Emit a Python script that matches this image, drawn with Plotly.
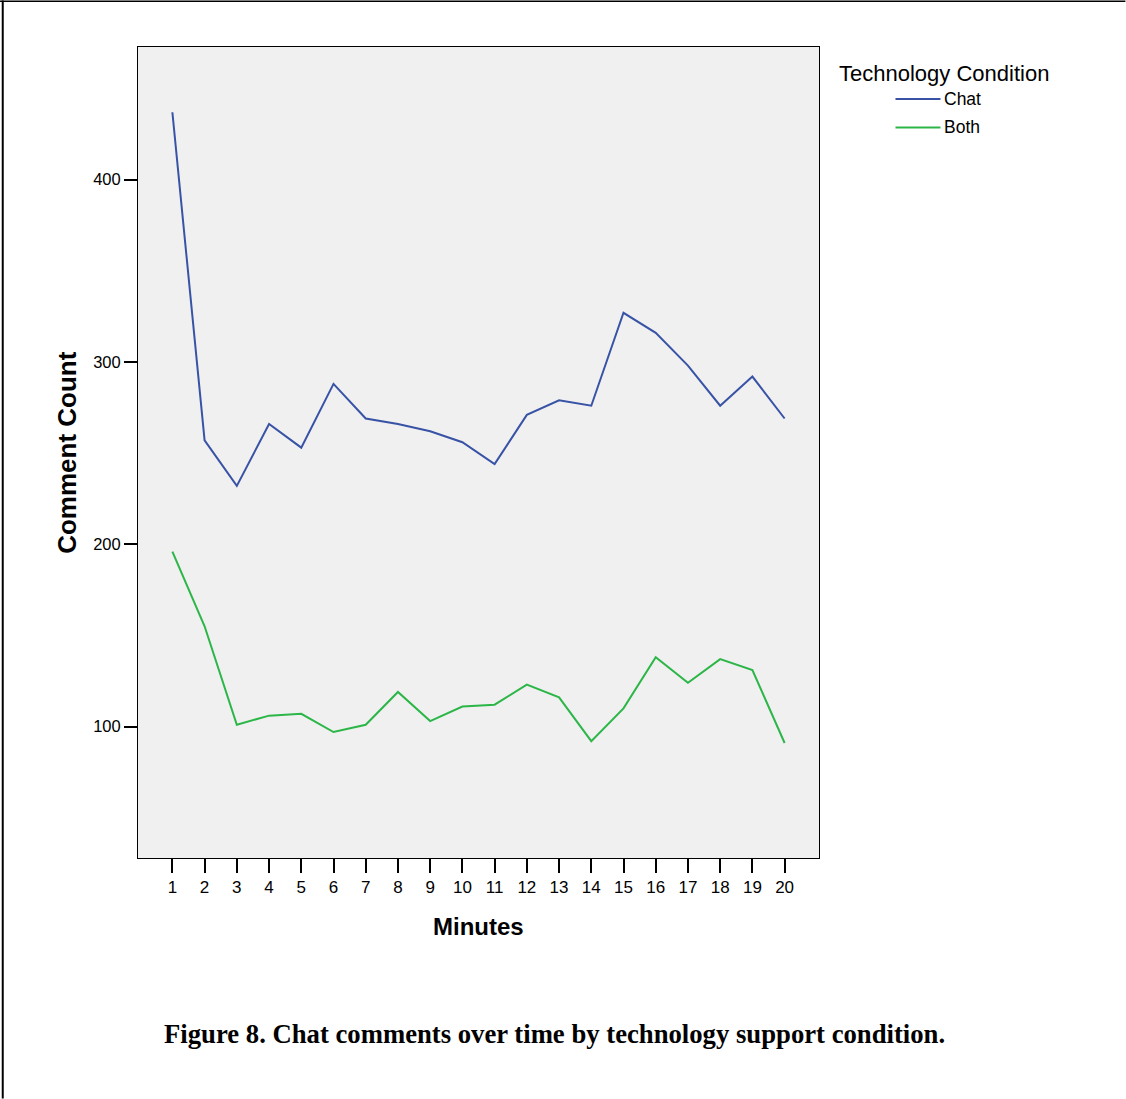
import plotly.graph_objects as go

# ---- data ----
minutes = list(range(1, 21))
chat = [437, 257, 232, 266, 253, 288, 269, 266, 262, 256,
        244, 271, 279, 276, 327, 316, 298, 276, 292, 269]
both = [196, 155, 101, 106, 107, 97, 101, 119, 103, 111,
        112, 123, 116, 92, 110, 138, 124, 137, 131, 91]
y_ticks = [100, 200, 300, 400]
series_names = ["Chat", "Both"]
legend_title = "Technology Condition"
x_title = "Minutes"
y_title = "Comment Count"
caption = "Figure 8. Chat comments over time by technology support condition."

# ---- layout geometry (pixels) ----
W, H = 1126, 1099
L, R, T, B = 138.3, 819.5, 46.5, 858.3
PW, PH = R - L, B - T


def px(x):
    return (x - L) / PW


def py(y):
    return (B - y) / PH


colors = ["#3853a6", "#2cb648"]
SANS = "Liberation Sans, Arial, sans-serif"

fig = go.Figure()
for name, vals, col in zip(series_names, [chat, both], colors):
    fig.add_trace(go.Scatter(x=minutes, y=vals, mode="lines", name=name,
                             line=dict(color=col, width=2), showlegend=False))

fig.update_layout(
    width=W, height=H,
    margin=dict(l=L, r=W - R, t=T, b=H - B, pad=0),
    paper_bgcolor="white", plot_bgcolor="#f0f0f0",
    font=dict(family=SANS, color="black"),
)
fig.update_xaxes(range=[-0.067, 21.067], tickmode="array", tickvals=minutes,
                 ticktext=[str(m) for m in minutes], ticks="outside", ticklen=14,
                 tickwidth=2, tickcolor="black", showline=True, linecolor="black",
                 linewidth=1, mirror=True, showgrid=False, zeroline=False,
                 tickfont=dict(size=17, family=SANS))
fig.update_yaxes(range=[27.9, 472.8], tickmode="array", tickvals=y_ticks,
                 ticks="outside", ticklen=13, tickwidth=2, tickcolor="black",
                 showline=True, linecolor="black", linewidth=1, mirror=True,
                 showgrid=False, zeroline=False,
                 tickfont=dict(size=16.5, family=SANS))

ann = []
ann.append(dict(text=f"<b>{x_title}</b>", x=0.5, y=py(927), xref="paper", yref="paper",
                showarrow=False, xanchor="center", yanchor="middle",
                font=dict(size=24, family=SANS)))
ann.append(dict(text=f"<b>{y_title}</b>", x=px(67), y=py(452), xref="paper", yref="paper",
                showarrow=False, xanchor="center", yanchor="middle", textangle=-90,
                font=dict(size=26, family=SANS)))
ann.append(dict(text=f"<b>{caption}</b>", x=px(555), y=py(1034), xref="paper", yref="paper",
                showarrow=False, xanchor="center", yanchor="middle",
                font=dict(size=26.7, family="Liberation Serif, Times New Roman, serif")))
ann.append(dict(text=legend_title, x=px(838), y=py(73), xref="paper", yref="paper",
                showarrow=False, xanchor="left", yanchor="middle",
                font=dict(size=22, family=SANS)))

shapes = []
for i, (name, col) in enumerate(zip(series_names, colors)):
    yy = 98.5 + i * 28.5
    shapes.append(dict(type="line", xref="paper", yref="paper",
                       x0=px(896), x1=px(941), y0=py(yy), y1=py(yy),
                       line=dict(color=col, width=2)))
    ann.append(dict(text=name, x=px(943), y=py(yy), xref="paper", yref="paper",
                    showarrow=False, xanchor="left", yanchor="middle",
                    font=dict(size=17.5, family=SANS)))

# outer page frame
shapes.append(dict(type="line", xref="paper", yref="paper",
                   x0=px(3), x1=px(3), y0=py(0), y1=py(H),
                   line=dict(color="black", width=2)))
shapes.append(dict(type="line", xref="paper", yref="paper",
                   x0=px(0), x1=px(W), y0=py(0.75), y1=py(0.75),
                   line=dict(color="black", width=1.5)))

fig.update_layout(annotations=ann, shapes=shapes)
fig.write_html("out.html", config={"displayModeBar": False},
               post_script="document.body.style.margin='0';document.body.style.padding='0';")
